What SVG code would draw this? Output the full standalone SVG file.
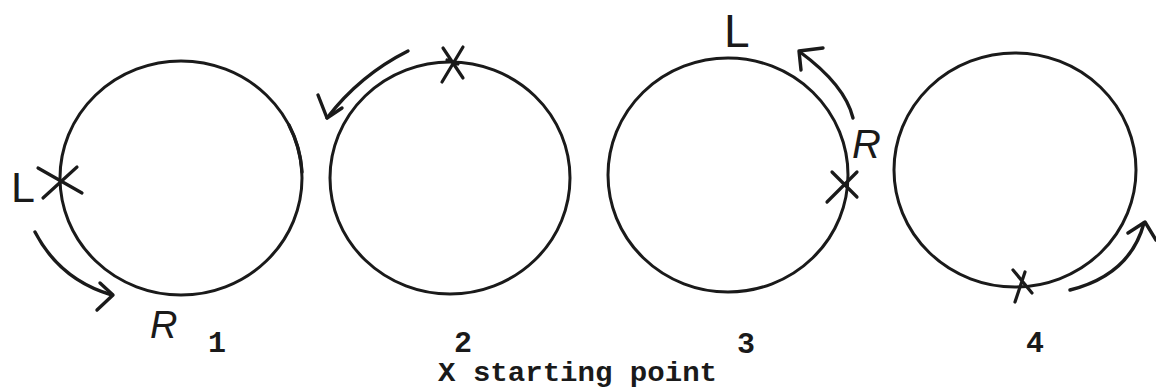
<svg xmlns="http://www.w3.org/2000/svg" width="1156" height="389" viewBox="0 0 1156 389">
<style>
.c{fill:none;stroke:#1a1a1a;stroke-width:3}
.m{fill:none;stroke:#1a1a1a;stroke-width:3.2;stroke-linecap:round}
.a{fill:none;stroke:#1a1a1a;stroke-width:3.4;stroke-linecap:round;stroke-linejoin:round}
.h{font-family:"Liberation Sans",Arial,sans-serif;fill:#1a1a1a}
.t{font-family:"Liberation Mono","Courier New",monospace;font-weight:bold;fill:#1a1a1a;font-size:30px}
</style>
<rect width="1156" height="389" fill="#fff"/>
<g id="circle1">
<ellipse class="c" cx="181" cy="178" rx="121" ry="117"/>
<path class="a" d="M289 125 Q300.5 147.5 302 172"/>
<path class="m" d="M38 168 L82 193 M43 198 L77 167"/>
<text class="h" x="11" y="202" font-size="43">L</text>
<text class="h" x="150" y="338" font-size="38" font-style="italic">R</text>
<text class="t" x="217" y="352" text-anchor="middle">1</text>
</g>
<g id="circle2">
<ellipse class="c" cx="450" cy="178" rx="120" ry="116"/>
<path class="m" d="M443 48 L463 78 M463 47 L442 82 M447 60 L458 64"/>
<text class="t" x="463" y="352" text-anchor="middle">2</text>
</g>
<g id="circle3">
<ellipse class="c" cx="728" cy="175" rx="120" ry="117"/>
<path class="m" d="M832 172 L857 197 M857 172 L827 202"/>
<text class="h" x="724" y="47" font-size="46">L</text>
<text class="h" x="852" y="158" font-size="40" font-style="italic">R</text>
<text class="t" x="746" y="353" text-anchor="middle">3</text>
</g>
<g id="circle4">
<ellipse class="c" cx="1015" cy="170" rx="121" ry="117"/>
<path class="m" d="M1013 270 L1032 293 M1025 272 L1015 302"/>
<text class="t" x="1035" y="352" text-anchor="middle">4</text>
</g>
<g id="connectors">
<path class="a" d="M35 232 Q60 280 112 295"/>
<path class="a" d="M100 283 L113 295 L97 310"/>
<path class="a" d="M408 51 Q360 75 327 118"/>
<path class="a" d="M318 95 L327 118 L342 108"/>
<path class="a" d="M853 118 Q845 85 800 52"/>
<path class="a" d="M823 48 L799 51 L801 70"/>
<path class="a" d="M1070 290 Q1130 275 1144 223"/>
<path class="a" d="M1128 233 L1145 222 L1156 240"/>
</g>
<text class="t" x="438" y="381" font-size="28" style="font-size:28px" textLength="279" lengthAdjust="spacingAndGlyphs">X starting point</text>
</svg>
